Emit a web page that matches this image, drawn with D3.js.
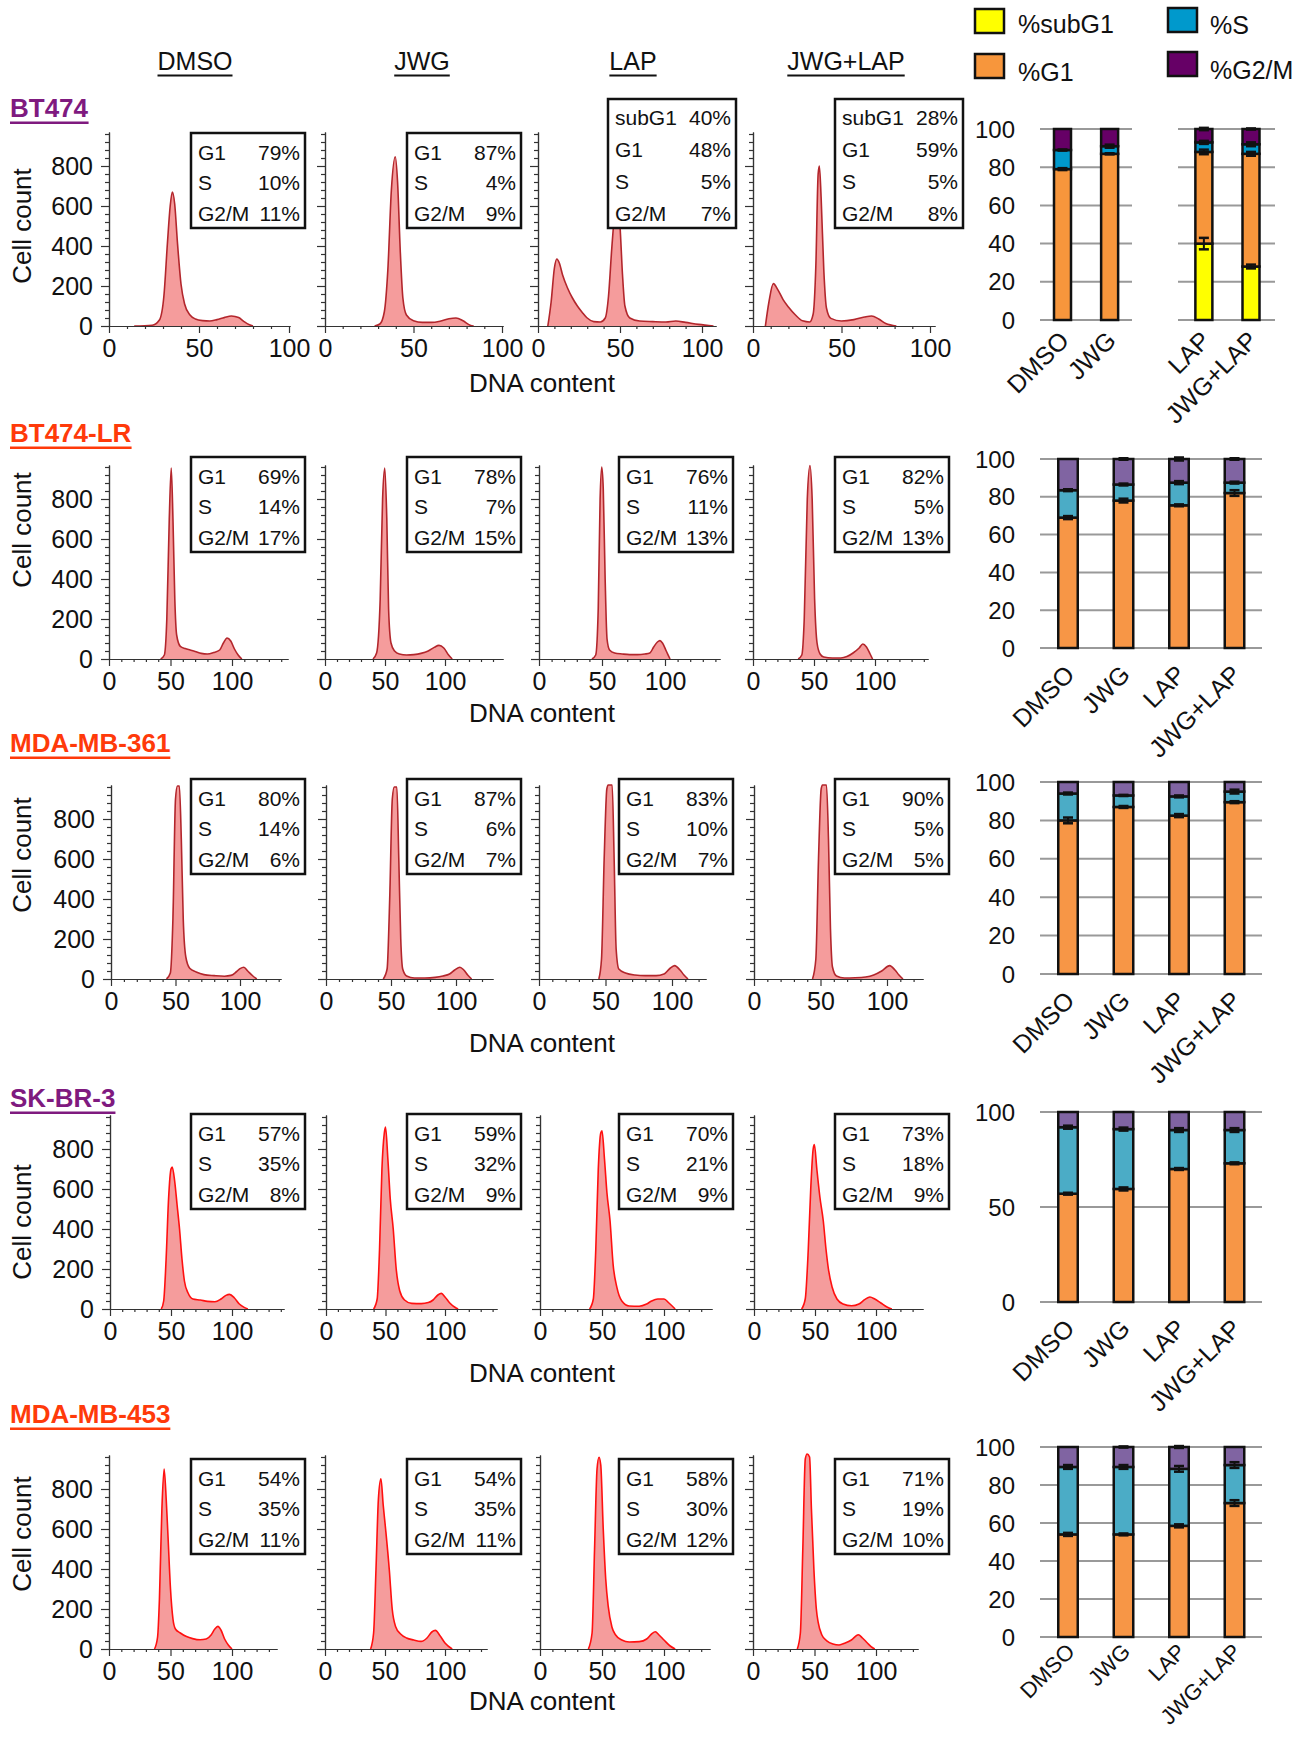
<!DOCTYPE html>
<html>
<head>
<meta charset="utf-8">
<script src="https://cdn.jsdelivr.net/npm/d3@7"></script>
<style>
  body { margin: 0; background: #fff; }
  svg text { font-family: "Liberation Sans", Arial, Helvetica, sans-serif; fill: #111; }
</style>
</head>
<body>
<svg id="fig" width="1315" height="1740"></svg>
<script>
// ---- data ----
var cellLines = ["BT474", "BT474-LR", "MDA-MB-361", "SK-BR-3", "MDA-MB-453"];
var treatments = ["DMSO", "JWG", "LAP", "JWG+LAP"];
var phases = ["subG1", "G1", "S", "G2/M"];

// histogram traces, [DNA content, cell count]
var histBT474 = [
  [[14,0],[24,4],[28,30],[30.5,150],[32.5,420],[34,600],[35.2,670],[36.5,610],[38,420],[40,210],[42,110],[45,55],[48,35],[52,27],[56,25],[60,32],[64,42],[68,50],[72,42],[75,22],[78,6],[80,0]],
  [[28,0],[31,10],[33.5,70],[35.5,280],[37.5,680],[39.7,846],[41,720],[42.5,380],[44,140],[46,55],[50,26],[55,18],[60,18],[65,24],[70,36],[74,40],[78,26],[82,4],[84,0]],
  [[6,0],[8,120],[10,290],[11.5,335],[13,315],[15,255],[18,190],[21,140],[24,100],[27,68],[30,40],[34,22],[38,20],[41,40],[43,150],[45,390],[47,580],[48.5,620],[50,500],[51.5,260],[53,100],[56,40],[62,25],[70,22],[78,20],[84,25],[90,18],[98,8],[107,0]],
  [[7,0],[9,120],[11.5,212],[14,182],[17,132],[20,95],[24,55],[28,26],[32,20],[34,60],[35.5,300],[36.8,760],[37.5,800],[38.5,640],[40,280],[41.5,90],[44,38],[50,25],[57,32],[63,45],[67,50],[71,35],[75,12],[81,0]]
];
var histBT474LR = [
  [[42,0],[45,20],[47,200],[49,700],[50.6,955],[52,700],[53.5,300],[55,120],[58,63],[62,52],[66,45],[70,38],[75,28],[80,25],[85,32],[90,45],[93,80],[96,105],[99,90],[102,50],[105,20],[108,0]],
  [[40,0],[43,30],[46,300],[48,800],[49.8,955],[51.5,700],[53,250],[55,80],[58,40],[62,25],[68,20],[74,22],[80,28],[86,40],[91,58],[95,68],[99,55],[103,20],[106,0]],
  [[42,0],[45,20],[47,250],[48.5,800],[49.8,960],[51,850],[52.5,400],[54,100],[56,45],[60,30],[66,25],[72,22],[78,22],[84,25],[88,30],[91,60],[94,85],[96,92],[98,80],[101,40],[104,0]],
  [[37,0],[40,20],[42,200],[44.5,800],[46.7,967],[48.5,800],[50.5,300],[52.5,80],[55,25],[58,10],[65,5],[72,5],[77,12],[82,30],[87,55],[90,75],[93,60],[96,25],[98,0]]
];
var hist361 = [
  [[43,0],[46,30],[48,300],[50,900],[51.5,965],[53,965],[54.5,700],[56,300],[58,110],[61,54],[66,35],[72,22],[80,17],[88,14],[93,18],[97,35],[100,52],[103,59],[106,40],[110,15],[113,0]],
  [[44,0],[47,50],[49,400],[51,900],[52.5,960],[54.5,960],[56,600],[57.5,200],[59,50],[62,15],[68,5],[76,5],[84,8],[90,15],[95,25],[99,45],[103,59],[106,45],[109,20],[112,0]],
  [[45,0],[47,100],[49,600],[51,950],[52,970],[55,970],[56.5,600],[58,150],[60,50],[65,30],[72,20],[80,17],[88,17],[94,25],[98,50],[102,67],[106,45],[109,20],[112,0]],
  [[44,0],[46.5,100],[48.5,600],[50.5,950],[51.5,970],[54.5,970],[56,700],[57.5,250],[59,60],[62,15],[68,5],[76,6],[84,10],[90,20],[96,40],[102,67],[106,45],[109,20],[112,0]]
];
var histSKBR3 = [
  [[42,0],[44,40],[46,250],[48,550],[50,700],[51,710],[53,640],[55,520],[57,400],[59,250],[61,140],[64,80],[68,50],[74,45],[80,38],[86,36],[91,50],[95,68],[98,73],[102,55],[106,25],[110,8],[113,0]],
  [[40,0],[43,50],[45,300],[47,700],[49,880],[50,910],[52,750],[54,550],[56.5,400],[59,200],[62,90],[66,45],[72,28],[80,27],[86,32],[90,45],[94,70],[97,78],[100,60],[104,30],[108,10],[111,0]],
  [[40,0],[43,50],[45,300],[47,700],[49,880],[50,891],[52,750],[54,580],[56.5,440],[59,220],[62,108],[66,40],[72,15],[80,14],[86,25],[90,40],[95,50],[100,50],[104,30],[109,0]],
  [[39,0],[42,50],[44.5,300],[46.5,600],[48.5,800],[49.5,822],[51.5,700],[54,560],[56.8,440],[59,300],[61,200],[64,110],[68,50],[73,25],[80,16],[86,25],[91,48],[95,60],[99,50],[104,30],[109,10],[113,0]]
];
var hist453 = [
  [[37,0],[39.5,60],[41,250],[43,700],[44.8,900],[46.5,750],[48,560],[50,300],[52,150],[54,100],[58,80],[63,62],[68,52],[74,46],[79,50],[83,70],[86,100],[88.5,113],[91,95],[94,50],[97,20],[100,0]],
  [[38,0],[40.5,80],[42.5,400],[44.5,750],[46.6,851],[48.5,720],[50.5,600],[53.6,395],[56,200],[58.8,113],[63,75],[68,55],[74,45],[80,38],[85,55],[89,85],[92,93],[96,65],[100,30],[106,0]],
  [[39,0],[42,80],[44,500],[46,900],[47.6,959],[49,920],[51,600],[53,350],[55,214],[58,110],[61,70],[66,45],[72,35],[80,37],[86,50],[90,75],[93,86],[96,70],[100,45],[105,15],[109,0]],
  [[36,0],[38.5,80],[40.5,500],[42.5,950],[44,975],[46,960],[47.5,700],[49.5,400],[51.5,200],[53,133],[56,70],[60,41],[65,25],[70,20],[75,30],[80,45],[85.6,71],[89,55],[93,30],[96,12],[99,0]]
];
var histograms = [histBT474, histBT474LR, hist361, histSKBR3, hist453];

// percentages printed in the boxes, [subG1, G1, S, G2/M]; null = not printed
var boxBT474   = [[null,79,10,11],[null,87,4,9],[40,48,5,7],[28,59,5,8]];
var boxBT474LR = [[null,69,14,17],[null,78,7,15],[null,76,11,13],[null,82,5,13]];
var box361     = [[null,80,14,6],[null,87,6,7],[null,83,10,7],[null,90,5,5]];
var boxSKBR3   = [[null,57,35,8],[null,59,32,9],[null,70,21,9],[null,73,18,9]];
var box453     = [[null,54,35,11],[null,54,35,11],[null,58,30,12],[null,71,19,10]];
var boxes = [boxBT474, boxBT474LR, box361, boxSKBR3, box453];

// stacked bar means (%) per cell line, per treatment
var pctSubG1 = [[0,0,40,28],[0,0,0,0],[0,0,0,0],[0,0,0,0],[0,0,0,0]];
var pctG1    = [[79,87,48,59],[69,78,75.5,82],[80,87,82.5,89.5],[57,59.5,70,73],[54,54,58.5,70.5]];
var pctS     = [[10,4,5,5],[14.5,8.5,12,5.5],[14,6,10,5.5],[35,31.5,20.5,17.5],[35.5,35.5,30,20]];
var pctG2M   = [[11,9,7,8],[16.5,13.5,12.5,12.5],[6,7,7.5,5],[8,9,9.5,9.5],[10.5,10.5,11.5,9.5]];
// error bars at the top of each segment
var errSubG1 = [[0,0,3,1],[0,0,0,0],[0,0,0,0],[0,0,0,0],[0,0,0,0]];
var errG1    = [[0.5,0.3,1.2,1],[0.8,1,0.5,1.5],[1.5,0.5,0.8,0.5],[0.5,0.8,0.5,0.5],[0.8,0.5,0.8,1.5]];
var errS     = [[0.3,0.8,0.8,1],[0.5,0.5,0.8,0.5],[0.5,0.3,0.5,1],[0.8,0.8,1,1],[1,1,1.5,1.5]];
var errG2M   = [[0,0,0.6,0.3],[0,0.4,0.8,0.4],[0,0,0,0],[0,0,0,0],[0,0.3,0.5,0]];
var barTicks = [[0,20,40,60,80,100],[0,20,40,60,80,100],[0,20,40,60,80,100],[0,50,100],[0,20,40,60,80,100]];

// ---- layout ----
var svg = d3.select("#fig");
var fontSans = "'Liberation Sans', Arial, Helvetica, sans-serif";

var histBase = [326, 659, 979, 1309, 1649];
var countMax = 970, plotH = 194;
// per row, per column: [x of 0, x of 100, x of axis end]
var histCols = [
  [[109,289,290],[325,502,503],[538,702,716],[753,930,935]],
  [[109,232,288],[325,445,503],[539,665,720],[753,875,928]],
  [[111,240,281],[326,456,493],[539,672,706],[754,887,923]],
  [[110,232,284],[326,445,497],[540,664,712],[754,876,923]],
  [[109,232,277],[325,445,487],[540,664,710],[753,876,918]]
];
var boxX = [[191,305],[407,521],[619,733],[835,949]];
var boxTop = [133, 457, 779, 1114, 1459];
var rowLabelY = [117, 442, 752, 1107, 1423];
var rowLabelColor = ["#7f1a7f", "#ff3a0a", "#ff3a0a", "#7f1a7f", "#ff3a0a"];
var cellCountY = [226, 530, 855, 1222, 1534];
var dnaLabelY = [392, 722, 1052, 1382, 1710];
var strokeCol = ["#b3262c", "#b3262c", "#b3262c", "#ff1010", "#ff1010"];

var barTop = [129, 459, 782, 1112, 1447];
var barBase = [320, 648, 974, 1302, 1637];
var barLabelDy = [22, 28, 28, 28, 16];
var barLabelSize = [25, 25, 25, 25, 22];

// underlined text helper
function underlined(g, x, y, txt, size, weight, color, anchor) {
  var t = g.append("text").attr("x", x).attr("y", y)
    .attr("text-anchor", anchor).style("font-size", size + "px")
    .style("font-weight", weight).style("fill", color).text(txt);
  var b = t.node().getBBox();
  g.append("line").attr("x1", b.x).attr("x2", b.x + b.width)
    .attr("y1", y + size * 0.22).attr("y2", y + size * 0.22)
    .attr("stroke", color).attr("stroke-width", weight == "bold" ? 2.5 : 1.8);
}

// column headers
var headerX = [195, 422, 633, 846];
treatments.forEach(function(t, i) {
  underlined(svg, headerX[i], 70, t, 25, "normal", "#111", "middle");
});

// ---- histogram panels ----
cellLines.forEach(function(line, r) {
  var base = histBase[r];
  underlined(svg, 10, rowLabelY[r], line, 26, "bold", rowLabelColor[r], "start");

  svg.append("text")
    .attr("transform", "translate(31," + cellCountY[r] + ") rotate(-90)")
    .attr("text-anchor", "middle").style("font-size", "26px").text("Cell count");
  svg.append("text").attr("x", 542).attr("y", dnaLabelY[r])
    .attr("text-anchor", "middle").style("font-size", "26px").text("DNA content");

  treatments.forEach(function(tr, c) {
    var geo = histCols[r][c];
    var per = (geo[1] - geo[0]) / 100;
    var xEndVal = (geo[2] - geo[0]) / per;
    var x = d3.scaleLinear().domain([0, xEndVal]).range([geo[0], geo[2]]);
    var y = d3.scaleLinear().domain([0, countMax]).range([base, base - plotH]);
    var g = svg.append("g");

    var pts = histograms[r][c];
    var area = d3.area().x(function(d) { return x(d[0]); })
      .y0(y(0)).y1(function(d) { return y(d[1]); }).curve(d3.curveMonotoneX);
    var ln = d3.line().x(function(d) { return x(d[0]); })
      .y(function(d) { return y(d[1]); }).curve(d3.curveMonotoneX);
    g.append("path").datum(pts).attr("d", area).attr("fill", "#f59c9c");
    g.append("path").datum(pts).attr("d", ln).attr("fill", "none")
      .attr("stroke", strokeCol[r]).attr("stroke-width", 1.6);

    // y axis: minor then major
    var yMinor = d3.range(0, countMax + 1, 40).filter(function(v) { return v % 200 != 0; });
    g.append("g").attr("transform", "translate(" + geo[0] + ",0)")
      .call(d3.axisLeft(y).tickValues(yMinor).tickSize(4).tickSizeOuter(0).tickFormat(""));
    g.append("g").attr("transform", "translate(" + geo[0] + ",0)")
      .call(d3.axisLeft(y).tickValues([0,200,400,600,800]).tickSize(8).tickSizeOuter(0).tickPadding(8)
        .tickFormat(c == 0 ? d3.format("d") : function() { return ""; }));
    // x axis
    var xMinor = d3.range(10, xEndVal, 10).filter(function(v) { return v % 50 != 0; });
    g.append("g").attr("transform", "translate(0," + base + ")")
      .call(d3.axisBottom(x).tickValues(xMinor).tickSize(3).tickSizeOuter(0).tickFormat(""));
    g.append("g").attr("transform", "translate(0," + base + ")")
      .call(d3.axisBottom(x).tickValues([0,50,100]).tickSize(7).tickSizeOuter(0).tickPadding(6)
        .tickFormat(d3.format("d")));
    g.selectAll(".domain, .tick line").attr("stroke", "#333").attr("stroke-width", 1.2);
    g.selectAll(".tick text").style("font-size", "25px").style("font-family", fontSans).attr("fill", "#111");

    // stat box
    var vals = boxes[r][c];
    var shown = [];
    vals.forEach(function(v, k) { if (v !== null) shown.push([phases[k], v]); });
    var bx0 = boxX[c][0], bx1 = boxX[c][1], bt = boxTop[r], bh = 95, step = 30.5, first = 19;
    if (shown.length == 4) { bt = 99; bh = 129; step = 32; first = 18; bx0 = (c == 2 ? 608 : 835); bx1 = bx0 + 128; }
    g.append("rect").attr("x", bx0).attr("y", bt).attr("width", bx1 - bx0).attr("height", bh)
      .attr("fill", "#fff").attr("stroke", "#111").attr("stroke-width", 2.5);
    shown.forEach(function(s, k) {
      var ty = bt + first + k * step;
      g.append("text").attr("x", bx0 + 7).attr("y", ty).attr("dy", "0.36em")
        .style("font-size", "21px").text(s[0]);
      g.append("text").attr("x", bx1 - 5).attr("y", ty).attr("dy", "0.36em")
        .attr("text-anchor", "end").style("font-size", "21px").text(s[1] + "%");
    });
  });
});

// ---- stacked bar charts ----
var segColors = [
  {"subG1": "#ffff00", "G1": "#f7963c", "S": "#0099cc", "G2/M": "#660066"},
  {"subG1": "#ffff00", "G1": "#f79646", "S": "#4bacc6", "G2/M": "#8064a2"}
];
cellLines.forEach(function(line, r) {
  var y = d3.scaleLinear().domain([0, 100]).range([barBase[r], barTop[r]]);
  var x, bw, gridSegs;
  if (r == 0) {
    x = d3.scalePoint().domain(["DMSO", "JWG", "gap", "LAP", "JWG+LAP"]).range([1062.5, 1251]);
    bw = 17; gridSegs = [[1040, 1132], [1178, 1275]];
  } else {
    x = d3.scalePoint().domain(treatments).range([1068, 1234.5]);
    bw = 19.5; gridSegs = [[1040, 1262]];
  }
  var g = svg.append("g");
  gridSegs.forEach(function(s) {
    g.selectAll(null).data(barTicks[r]).enter().append("line")
      .attr("x1", s[0]).attr("x2", s[1])
      .attr("y1", function(d) { return y(d); }).attr("y2", function(d) { return y(d); })
      .attr("stroke", "#999").attr("stroke-width", 2);
  });
  g.selectAll(null).data(barTicks[r]).enter().append("text")
    .attr("x", 1015).attr("y", function(d) { return y(d); }).attr("dy", "0.36em")
    .attr("text-anchor", "end").style("font-size", "24px").text(function(d) { return d; });

  var table = treatments.map(function(t, i) {
    return {name: t, "subG1": pctSubG1[r][i], "G1": pctG1[r][i], "S": pctS[r][i], "G2/M": pctG2M[r][i],
            err: [errSubG1[r][i], errG1[r][i], errS[r][i], errG2M[r][i]]};
  });
  var stacked = d3.stack().keys(phases)(table);
  var cols = segColors[r == 0 ? 0 : 1];
  stacked.forEach(function(layer, k) {
    layer.forEach(function(d) {
      if (d[1] - d[0] <= 0) return;
      g.append("rect").attr("x", x(d.data.name) - bw / 2).attr("width", bw)
        .attr("y", y(d[1])).attr("height", y(d[0]) - y(d[1]))
        .attr("fill", cols[layer.key]).attr("stroke", "#111").attr("stroke-width", 2.5);
    });
  });
  stacked.forEach(function(layer, k) {
    layer.forEach(function(d) {
      var e = d.data.err[k];
      if (!e) return;
      var cx = x(d.data.name);
      var eg = g.append("g").attr("stroke", "#111").attr("stroke-width", 2);
      eg.append("line").attr("x1", cx).attr("x2", cx).attr("y1", y(d[1] - e)).attr("y2", y(d[1] + e));
      [d[1] - e, d[1] + e].forEach(function(v) {
        eg.append("line").attr("x1", cx - 5).attr("x2", cx + 5).attr("y1", y(v)).attr("y2", y(v))
          .attr("stroke-width", 2.5);
      });
    });
  });
  treatments.forEach(function(t) {
    g.append("text")
      .attr("transform", "translate(" + (x(t) + 8) + "," + (barBase[r] + barLabelDy[r]) + ") rotate(-45)")
      .attr("text-anchor", "end").style("font-size", barLabelSize[r] + "px").text(t);
  });
});

// ---- legend ----
var legendItems = [["%subG1", "#ffff00", 975, 9, 1018, 33], ["%G1", "#f7963c", 975, 54, 1018, 81],
                   ["%S", "#0099cc", 1168, 8, 1210, 34], ["%G2/M", "#660066", 1168, 52, 1210, 79]];
legendItems.forEach(function(it) {
  svg.append("rect").attr("x", it[2]).attr("y", it[3]).attr("width", 29).attr("height", 24)
    .attr("fill", it[1]).attr("stroke", "#111").attr("stroke-width", 2.5);
  svg.append("text").attr("x", it[4]).attr("y", it[5]).style("font-size", "25px").text(it[0]);
});
</script>
</body>
</html>
